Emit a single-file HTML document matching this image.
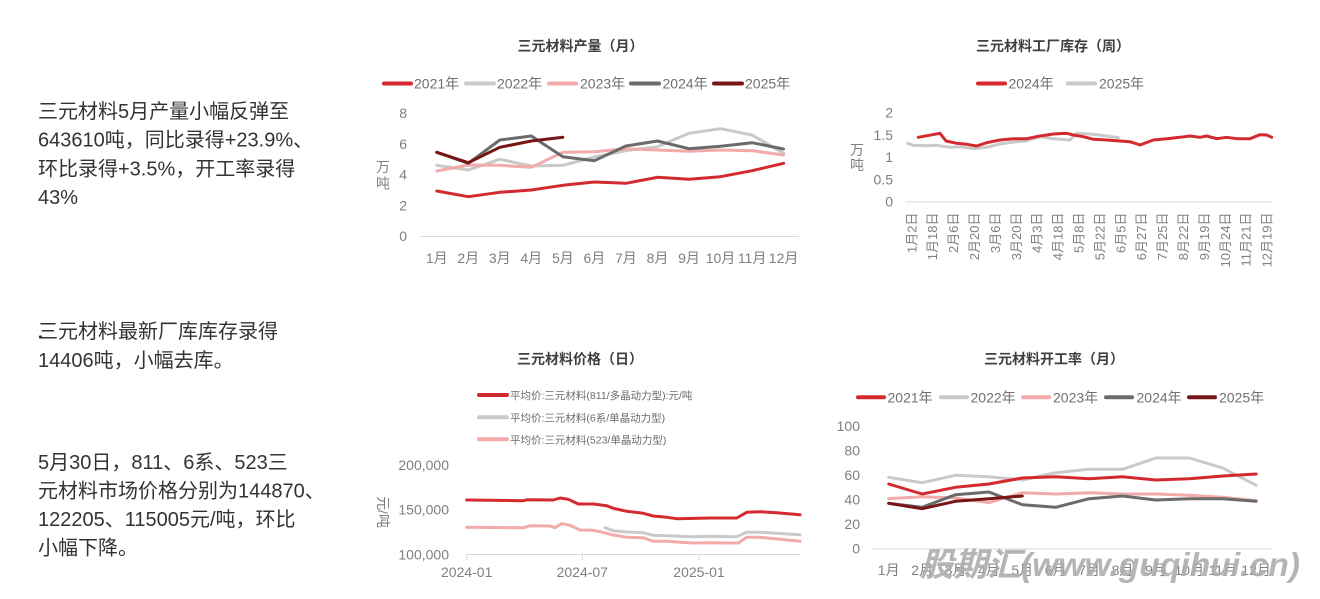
<!DOCTYPE html>
<html><head><meta charset="utf-8"><style>
html,body{margin:0;padding:0;background:#fff;}
svg{display:block;}
text{font-family:"Liberation Sans","Noto Sans CJK SC",sans-serif;}
.lt{font-size:20px;fill:#333;}
.tt{font-size:14px;font-weight:bold;fill:#404040;}
.lg{font-size:14px;fill:#707070;}
.tk{font-size:14px;fill:#7f7f7f;}
.tk13{font-size:13px;fill:#7f7f7f;}
.ln{fill:none;stroke-width:3;stroke-linejoin:round;stroke-linecap:round;}
.lgl{stroke-width:4;stroke-linecap:round;}
</style></head><body>
<svg width="1320" height="599" viewBox="0 0 1320 599" xmlns="http://www.w3.org/2000/svg">
<rect width="1320" height="599" fill="#fff"/>

<!-- Left text -->
<text class="lt" x="38" y="118">三元材料5月产量小幅反弹至</text>
<text class="lt" x="38" y="146.7">643610吨，同比录得+23.9%、</text>
<text class="lt" x="38" y="175.4">环比录得+3.5%，开工率录得</text>
<text class="lt" x="38" y="204">43%</text>

<circle cx="40.5" cy="337" r="1.6" fill="#333"/>
<text class="lt" x="38" y="338">三元材料最新厂库库存录得</text>
<text class="lt" x="38" y="367">14406吨，小幅去库。</text>

<text class="lt" x="38" y="469">5月30日，811、6系、523三</text>
<text class="lt" x="38" y="497.5">元材料市场价格分别为144870、</text>
<text class="lt" x="38" y="526">122205、115005元/吨，环比</text>
<text class="lt" x="38" y="554.5">小幅下降。</text>

<!-- ===== Chart 1: production ===== -->
<text class="tt" x="580.5" y="51" text-anchor="middle">三元材料产量（月）</text>
<line class="lgl" x1="384" y1="83.5" x2="411" y2="83.5" stroke="#d42a2f"/>
<text class="lg" x="414" y="88.5">2021年</text>
<line class="lgl" x1="466" y1="83.5" x2="494" y2="83.5" stroke="#c9c9c9"/>
<text class="lg" x="497" y="88.5">2022年</text>
<line class="lgl" x1="549" y1="83.5" x2="576" y2="83.5" stroke="#f2aaaa"/>
<text class="lg" x="580" y="88.5">2023年</text>
<line class="lgl" x1="631" y1="83.5" x2="659" y2="83.5" stroke="#6b6b6b"/>
<text class="lg" x="662.5" y="88.5">2024年</text>
<line class="lgl" x1="714" y1="83.5" x2="742" y2="83.5" stroke="#761616"/>
<text class="lg" x="745" y="88.5">2025年</text>

<g class="tk" text-anchor="end">
<text x="407" y="118">8</text>
<text x="407" y="148.8">6</text>
<text x="407" y="179.5">4</text>
<text x="407" y="210.3">2</text>
<text x="407" y="241">0</text>
</g>
<text class="tk" x="383" y="172" text-anchor="middle">万</text>
<text class="tk" x="383" y="188.5" text-anchor="middle">吨</text>
<line x1="421" y1="236.5" x2="799" y2="236.5" stroke="#d9d9d9" stroke-width="1"/>
<g class="tk" text-anchor="middle">
<text x="436.8" y="263">1月</text><text x="468.3" y="263">2月</text><text x="499.8" y="263">3月</text>
<text x="531.3" y="263">4月</text><text x="562.9" y="263">5月</text><text x="594.4" y="263">6月</text>
<text x="625.9" y="263">7月</text><text x="657.5" y="263">8月</text><text x="689" y="263">9月</text>
<text x="720.5" y="263">10月</text><text x="752.1" y="263">11月</text><text x="783.6" y="263">12月</text>
</g>
<polyline class="ln" stroke="#d42a2f" points="436.8,191 468.3,196.7 499.8,192.3 531.3,190 562.9,185.3 594.4,182 625.9,183.3 657.5,177.3 689,179.3 720.5,176.7 752.1,170.7 783.6,163.3"/>
<polyline class="ln" stroke="#c9c9c9" points="436.8,165.3 468.3,170 499.8,159.3 531.3,166 562.9,165.3 594.4,157 625.9,150.7 657.5,146.7 689,133.3 720.5,128.7 752.1,135 783.6,153.3"/>
<polyline class="ln" stroke="#f2aaaa" points="436.8,171 468.3,165 499.8,165.3 531.3,167.3 562.9,152.3 594.4,151.7 625.9,148.7 657.5,150 689,151.3 720.5,150 752.1,150.7 783.6,155"/>
<polyline class="ln" stroke="#6b6b6b" points="436.8,152.3 468.3,163.3 499.8,140 531.3,136 562.9,156.7 594.4,160.7 625.9,146 657.5,141 689,148.7 720.5,146.3 752.1,142.7 783.6,149"/>
<polyline class="ln" stroke="#761616" points="436.8,152.3 468.3,162.7 499.8,147.3 531.3,141 562.9,137.3"/>

<!-- ===== Chart 2: inventory weekly ===== -->
<text class="tt" x="1053" y="51" text-anchor="middle">三元材料工厂库存（周）</text>
<line class="lgl" x1="978" y1="83.5" x2="1005" y2="83.5" stroke="#d42a2f"/>
<text class="lg" x="1008.5" y="88.5">2024年</text>
<line class="lgl" x1="1068" y1="83.5" x2="1095" y2="83.5" stroke="#c9c9c9"/>
<text class="lg" x="1099" y="88.5">2025年</text>

<g class="tk" text-anchor="end">
<text x="893" y="117.5">2</text>
<text x="893" y="139.8">1.5</text>
<text x="893" y="162">1</text>
<text x="893" y="184.3">0.5</text>
<text x="893" y="206.5">0</text>
</g>
<text class="tk" x="857" y="155" text-anchor="middle">万</text>
<text class="tk" x="857" y="170" text-anchor="middle">吨</text>
<line x1="906" y1="202" x2="1273" y2="202" stroke="#d9d9d9" stroke-width="1"/>
<g class="tk13" text-anchor="end">
<text transform="translate(916.3,212.5) rotate(-90)">1月2日</text>
<text transform="translate(937.2,212.5) rotate(-90)">1月18日</text>
<text transform="translate(958.1,212.5) rotate(-90)">2月6日</text>
<text transform="translate(979,212.5) rotate(-90)">2月20日</text>
<text transform="translate(999.9,212.5) rotate(-90)">3月6日</text>
<text transform="translate(1020.8,212.5) rotate(-90)">3月20日</text>
<text transform="translate(1041.7,212.5) rotate(-90)">4月3日</text>
<text transform="translate(1062.6,212.5) rotate(-90)">4月18日</text>
<text transform="translate(1083.5,212.5) rotate(-90)">5月8日</text>
<text transform="translate(1104.4,212.5) rotate(-90)">5月22日</text>
<text transform="translate(1125.3,212.5) rotate(-90)">6月5日</text>
<text transform="translate(1146.2,212.5) rotate(-90)">6月27日</text>
<text transform="translate(1167.1,212.5) rotate(-90)">7月25日</text>
<text transform="translate(1188,212.5) rotate(-90)">8月22日</text>
<text transform="translate(1208.9,212.5) rotate(-90)">9月19日</text>
<text transform="translate(1229.8,212.5) rotate(-90)">10月24日</text>
<text transform="translate(1250.7,212.5) rotate(-90)">11月21日</text>
<text transform="translate(1271.6,212.5) rotate(-90)">12月19日</text>
</g>
<polyline class="ln" stroke="#c9c9c9" points="907.7,143.3 913.3,145.3 926.7,145.7 936.7,145.3 950,147.3 960,146.7 973.3,148.7 986.7,147.3 1000,144 1013.3,142 1026.7,140.7 1040,136.7 1053.3,138.7 1070,140 1076.7,133.3 1093.3,134.3 1106.7,136 1118.3,137.7"/>
<polyline class="ln" stroke="#d42a2f" points="918.3,137.3 940,133.3 946,141 956.7,143.3 966.7,144.3 976.7,146 986.7,142.7 1000,140 1013.3,138.7 1026.7,138.7 1040,136 1053.3,134 1066.7,133.3 1073.3,135 1083.3,136.7 1093.3,139.3 1106.7,140 1120,141 1130,141.7 1140,145 1153.3,140 1166.7,138.7 1180,137.3 1190,136 1200,137.3 1206.7,136 1216.7,138.7 1226.7,137.3 1236.7,138.7 1250,138.7 1260,134.7 1266.7,135 1271.7,137.3"/>

<!-- ===== Chart 3: price daily ===== -->
<text class="tt" x="580" y="364" text-anchor="middle">三元材料价格（日）</text>
<line class="lgl" x1="479" y1="395" x2="507" y2="395" stroke="#d42a2f"/>
<text x="510" y="399" style="font-size:10.5px;fill:#6b6b6b">平均价:三元材料(811/多晶动力型):元/吨</text>
<line class="lgl" x1="479" y1="417.3" x2="507" y2="417.3" stroke="#c9c9c9"/>
<text x="510" y="421.3" style="font-size:10.5px;fill:#6b6b6b">平均价:三元材料(6系/单晶动力型)</text>
<line class="lgl" x1="479" y1="439.3" x2="507" y2="439.3" stroke="#f2aaaa"/>
<text x="510" y="443.3" style="font-size:10.5px;fill:#6b6b6b">平均价:三元材料(523/单晶动力型)</text>

<g class="tk" text-anchor="end">
<text x="449" y="470">200,000</text>
<text x="449" y="514.3">150,000</text>
<text x="449" y="559.3">100,000</text>
</g>
<text class="tk" transform="translate(378,512) rotate(90)" text-anchor="middle">元/吨</text>
<line x1="466.7" y1="554.5" x2="800" y2="554.5" stroke="#d9d9d9" stroke-width="1"/>
<g stroke="#d9d9d9" stroke-width="1">
<line x1="466.7" y1="554.5" x2="466.7" y2="560"/>
<line x1="582.3" y1="554.5" x2="582.3" y2="560"/>
<line x1="699" y1="554.5" x2="699" y2="560"/>
</g>
<g class="tk" text-anchor="middle">
<text x="466.7" y="577">2024-01</text>
<text x="582.3" y="577">2024-07</text>
<text x="699" y="577">2025-01</text>
</g>
<polyline class="ln" stroke="#f2aaaa" points="466.7,527.3 523.3,527.7 530,525.7 550,526 555,527.7 561.7,523.7 570,525.3 580,530 593.3,530.3 600,531.7 613.3,535 626.7,537.3 643.3,537.7 653.3,541.3 666.7,541.3 680,542.3 693.3,543 710,542.7 726.7,543 738.3,543 746.7,537.3 760,537.3 780,539.3 800,541.3"/>
<polyline class="ln" stroke="#c9c9c9" points="605,527.7 613.3,530.7 626.7,532 643.3,532.7 653.3,535.3 666.7,535.7 693.3,536.7 710,536.3 736.7,536.7 746.7,532.3 760,532.3 800,534.7"/>
<polyline class="ln" stroke="#d42a2f" points="466.7,500 523.3,500.7 526.7,499.8 553.3,500 560,498 568.3,499.3 578.3,504 593.3,504 606.7,505.7 613.3,508.3 626.7,511.3 643.3,513.3 653.3,516 666.7,517.3 676.7,518.7 710,518 736.7,518 746.7,512.3 760,511.7 776.7,512.7 800,514.7"/>

<!-- ===== Chart 4: operating rate ===== -->
<text class="tt" x="1054" y="364" text-anchor="middle">三元材料开工率（月）</text>
<line class="lgl" x1="858" y1="397.3" x2="884" y2="397.3" stroke="#d42a2f"/>
<text class="lg" x="887.5" y="402.3">2021年</text>
<line class="lgl" x1="941" y1="397.3" x2="967" y2="397.3" stroke="#c9c9c9"/>
<text class="lg" x="970.5" y="402.3">2022年</text>
<line class="lgl" x1="1023" y1="397.3" x2="1049" y2="397.3" stroke="#f2aaaa"/>
<text class="lg" x="1053" y="402.3">2023年</text>
<line class="lgl" x1="1106" y1="397.3" x2="1132" y2="397.3" stroke="#6b6b6b"/>
<text class="lg" x="1136.5" y="402.3">2024年</text>
<line class="lgl" x1="1189" y1="397.3" x2="1215" y2="397.3" stroke="#761616"/>
<text class="lg" x="1219" y="402.3">2025年</text>

<g class="tk" text-anchor="end">
<text x="860" y="431">100</text>
<text x="860" y="455.5">80</text>
<text x="860" y="480">60</text>
<text x="860" y="504.5">40</text>
<text x="860" y="529">20</text>
<text x="860" y="553.5">0</text>
</g>
<line x1="872" y1="549" x2="1273" y2="549" stroke="#d9d9d9" stroke-width="1"/>
<g class="tk" text-anchor="middle">
<text x="888.7" y="575">1月</text><text x="922.1" y="575">2月</text><text x="955.5" y="575">3月</text>
<text x="988.9" y="575">4月</text><text x="1022.3" y="575">5月</text><text x="1055.7" y="575">6月</text>
<text x="1089.1" y="575">7月</text><text x="1122.5" y="575">8月</text><text x="1155.9" y="575">9月</text>
<text x="1189.3" y="575">10月</text><text x="1222.7" y="575">11月</text><text x="1256.1" y="575">12月</text>
</g>
<polyline class="ln" stroke="#c9c9c9" points="888.7,477.3 922.1,482.7 955.5,475.3 988.9,476.7 1022.3,480 1055.7,472.7 1089.1,469.3 1122.5,469.3 1155.9,458 1189.3,458 1222.7,468 1256.1,485.3"/>
<polyline class="ln" stroke="#f2aaaa" points="888.7,498.7 922.1,496.7 955.5,498 988.9,502.7 1022.3,492.7 1055.7,494 1089.1,492.7 1122.5,494 1155.9,494 1189.3,495.3 1222.7,497.3 1256.1,500.7"/>
<polyline class="ln" stroke="#d42a2f" points="888.7,484 922.1,494 955.5,487.3 988.9,484 1022.3,478 1055.7,476.7 1089.1,478.7 1122.5,476.7 1155.9,480 1189.3,478.7 1222.7,476 1256.1,474"/>
<polyline class="ln" stroke="#6b6b6b" points="888.7,503.3 922.1,507.3 955.5,494.7 988.9,492 1022.3,504.7 1055.7,507.3 1089.1,498.7 1122.5,496 1155.9,500 1189.3,498.7 1222.7,498.7 1256.1,501.3"/>
<polyline class="ln" stroke="#761616" points="888.7,503.3 922.1,508.7 955.5,501.3 988.9,498.7 1022.3,496"/>

<!-- watermark -->
<text x="920" y="576" textLength="380" lengthAdjust="spacingAndGlyphs" style="font-size:33px;font-weight:bold;font-style:italic;fill:#adadad;opacity:0.9">股期汇(www.guqihui.cn)</text>
</svg>
</body></html>
